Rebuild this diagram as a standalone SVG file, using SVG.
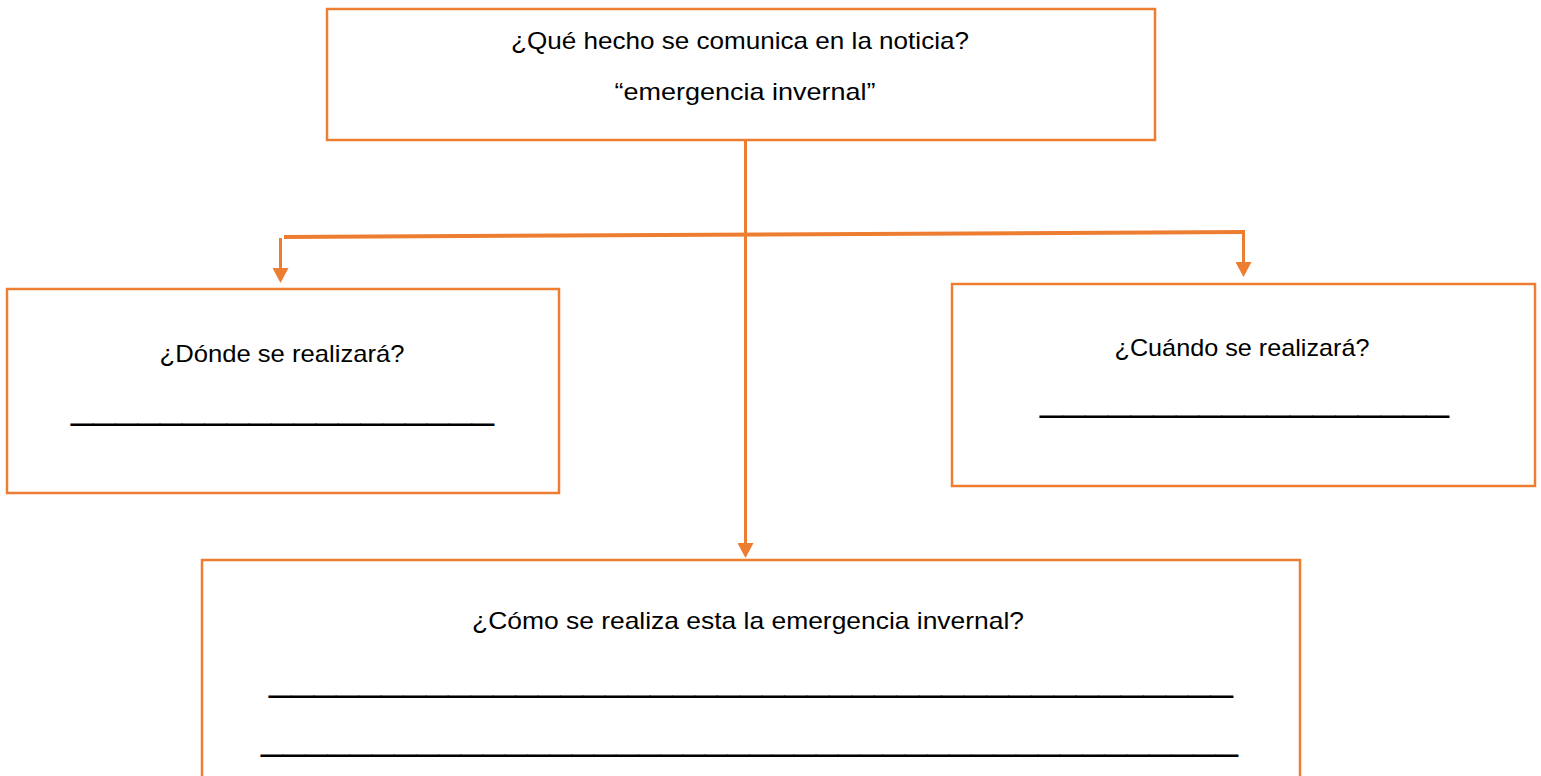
<svg xmlns="http://www.w3.org/2000/svg" width="1541" height="776" viewBox="0 0 1541 776">
<style>
.box{fill:#ffffff;stroke:#ED7D31;stroke-width:2.5}
.t{font-family:"Liberation Sans",Arial,sans-serif;font-size:24px;fill:#000;text-anchor:middle}
.u{font-family:"Liberation Sans",Arial,sans-serif;font-size:40px;fill:#000}
.c{stroke:#ED7D31;fill:none}
</style>
<defs>
<marker id="ah" markerUnits="userSpaceOnUse" markerWidth="15" markerHeight="16" refX="0" refY="8" orient="auto">
<path d="M0,0 L15,8 L0,16 z" fill="#ED7D31"/>
</marker>
</defs>
<rect width="1541" height="776" fill="#ffffff"/>
<g id="connectors">
<line class="c" x1="745.5" y1="140" x2="745.5" y2="543" stroke-width="3" marker-end="url(#ah)"/>
<line class="c" x1="284" y1="237" x2="1245" y2="232" stroke-width="4"/>
<line class="c" x1="280.5" y1="238" x2="280.5" y2="268" stroke-width="3" marker-end="url(#ah)"/>
<line class="c" x1="1243.5" y1="232" x2="1243.5" y2="262" stroke-width="3" marker-end="url(#ah)"/>
</g>
<g id="node-top">
<rect class="box" x="327" y="9" width="828" height="131"/>
<text class="t" x="740" y="49" textLength="458" lengthAdjust="spacingAndGlyphs">¿Qué hecho se comunica en la noticia?</text>
<text class="t" x="745" y="100" textLength="261" lengthAdjust="spacingAndGlyphs">“emergencia invernal”</text>
</g>
<g id="node-donde">
<rect class="box" x="7" y="289" width="552" height="204"/>
<text class="t" x="282" y="362" textLength="245" lengthAdjust="spacingAndGlyphs">¿Dónde se realizará?</text>
<text class="u" x="71" y="418" textLength="423" lengthAdjust="spacingAndGlyphs">___________________</text>
</g>
<g id="node-cuando">
<rect class="box" x="952" y="284" width="583" height="202"/>
<text class="t" x="1242" y="356" textLength="255" lengthAdjust="spacingAndGlyphs">¿Cuándo se realizará?</text>
<text class="u" x="1040" y="410" textLength="409" lengthAdjust="spacingAndGlyphs">__________________</text>
</g>
<g id="node-como">
<rect class="box" x="202" y="560" width="1098" height="240"/>
<text class="t" x="748" y="629" textLength="552" lengthAdjust="spacingAndGlyphs">¿Cómo se realiza esta la emergencia invernal?</text>
<text class="u" x="269" y="690" textLength="964" lengthAdjust="spacingAndGlyphs">___________________________________________</text>
<text class="u" x="261" y="749" textLength="977" lengthAdjust="spacingAndGlyphs">____________________________________________</text>
</g>
</svg>
